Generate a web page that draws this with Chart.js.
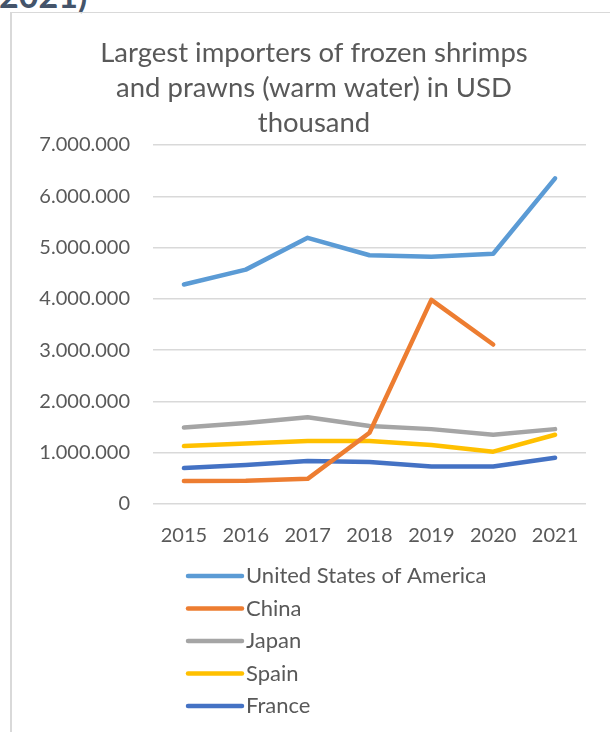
<!DOCTYPE html>
<html>
<head>
<meta charset="utf-8">
<script src="https://cdn.jsdelivr.net/npm/chart.js@4"></script>
<style>
  html, body { margin: 0; padding: 0; background: #ffffff; }
  body { width: 610px; height: 732px; position: relative; overflow: hidden; font-family: Lato, "Noto Sans", sans-serif; }
  #heading { position: absolute; left: -1px; top: -26px; font: bold 34px Lato, "Noto Sans", sans-serif; color: #44546A; white-space: nowrap; }
  #frame { position: absolute; left: 10px; top: 12px; width: 600px; height: 720px; border-top: 1px solid #d9d9d9; border-left: 2px solid #d9d9d9; box-sizing: border-box; }
  #wrap { position: absolute; left: 12px; top: 13px; width: 598px; height: 719px; }
</style>
</head>
<body>
<div id="heading">2021)</div>
<div id="frame"></div>
<div id="wrap"><canvas id="c" width="598" height="719"></canvas></div>
<script>
const titleLines = ["Largest importers of frozen shrimps", "and prawns (warm water) in USD", "thousand"];
const years = ["2015", "2016", "2017", "2018", "2019", "2020", "2021"];
const usa    = [4280000, 4570000, 5190000, 4850000, 4820000, 4880000, 6350000];
const china  = [450000, 455000, 490000, 1390000, 3980000, 3110000, null];
const japan  = [1490000, 1580000, 1690000, 1520000, 1460000, 1350000, 1460000];
const spain  = [1130000, 1180000, 1230000, 1230000, 1150000, 1020000, 1350000];
const france = [700000, 760000, 840000, 820000, 730000, 730000, 900000];
const seriesNames = ["United States of America", "China", "Japan", "Spain", "France"];
const seriesColors = ["#5B9BD5", "#ED7D31", "#A5A5A5", "#FFC000", "#4472C4"];
const yTickMax = 7000000, yTickStep = 1000000;

const textColor = "#595959";
const fontFam = "Lato, 'Noto Sans', sans-serif";

function fmt(v) { return String(v).replace(/\B(?=(\d{3})+(?!\d))/g, "."); }

const seriesData = [usa, china, japan, spain, france];
const datasets = seriesData.map((d, i) => ({
  label: seriesNames[i],
  data: d,
  borderColor: seriesColors[i],
  backgroundColor: seriesColors[i],
  borderWidth: 4.5,
  borderCapStyle: "round",
  borderJoinStyle: "round",
  pointRadius: 0,
  pointHoverRadius: 0,
  tension: 0,
  spanGaps: false,
  fill: false
}));

const titlePlugin = {
  id: "customTitle",
  afterDraw(chart) {
    const ctx = chart.ctx;
    ctx.save();
    ctx.fillStyle = textColor;
    ctx.font = "27.5px " + fontFam;
    ctx.textAlign = "center";
    ctx.textBaseline = "middle";
    titleLines.forEach((t, i) => ctx.fillText(t, 302, 40 + i * 35));
    ctx.restore();
  }
};

const legendPlugin = {
  id: "customLegend",
  afterDraw(chart) {
    const ctx = chart.ctx;
    ctx.save();
    chart.data.datasets.forEach((ds, i) => {
      const y = 563 + i * 32.5;
      ctx.strokeStyle = ds.borderColor;
      ctx.lineWidth = 4.5;
      ctx.lineCap = "round";
      ctx.beginPath();
      ctx.moveTo(176, y);
      ctx.lineTo(230, y);
      ctx.stroke();
      ctx.fillStyle = textColor;
      ctx.font = "22px " + fontFam;
      ctx.textAlign = "left";
      ctx.textBaseline = "middle";
      ctx.fillText(ds.label, 234, y);
    });
    ctx.restore();
  }
};

new Chart(document.getElementById("c"), {
  type: "line",
  data: { labels: years, datasets },
  plugins: [titlePlugin, legendPlugin],
  options: {
    responsive: false,
    animation: false,
    events: [],
    layout: { padding: { top: 132, left: 0, right: 24, bottom: 178 } },
    plugins: { legend: { display: false }, title: { display: false }, tooltip: { enabled: false } },
    scales: {
      x: {
        offset: true,
        grid: { display: false, drawTicks: false },
        border: { display: false },
        ticks: { color: textColor, font: { family: fontFam, size: 20 }, padding: 20, maxRotation: 0 },
        afterFit(s) { s.height = 50; }
      },
      y: {
        min: 0,
        max: yTickMax,
        grid: { color: "#d9d9d9", lineWidth: 1.5, drawTicks: false },
        border: { display: false },
        ticks: { stepSize: yTickStep, color: textColor, font: { family: fontFam, size: 20 }, padding: 23, callback: v => fmt(v) },
        afterFit(s) { s.width = 141; }
      }
    }
  }
});
</script>
</body>
</html>
